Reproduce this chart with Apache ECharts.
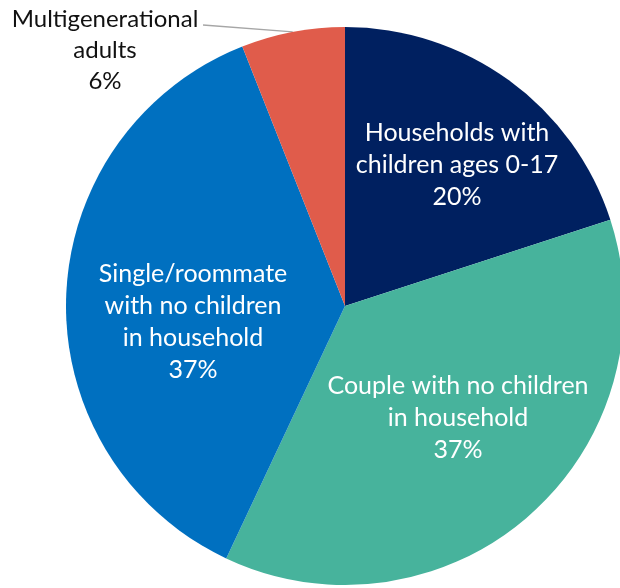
<!DOCTYPE html>
<html>
<head>
<meta charset="utf-8">
<script src="https://cdn.jsdelivr.net/npm/echarts@6/dist/echarts.min.js"></script>
<style>
  html, body { margin: 0; padding: 0; background: #ffffff; }
  #chart { width: 620px; height: 588px; }
</style>
</head>
<body>
<div id="chart"></div>
<script>
// Household types (share of households, %)
const categories = [
  'Households with\nchildren ages 0-17',
  'Couple with no children\nin household',
  'Single/roommate\nwith no children\nin household',
  'Multigenerational\nadults'
];
const shares = [20, 37, 37, 6];

const sliceColors = ['#002060', '#47B39C', '#0070C0', '#E05C4B'];
// Label centres for each slice (pixels)
const labelSpots = [[457, 165], [458, 418], [193, 322], [105, 50]];

const CENTER = [345, 306];
const RADIUS = 279;

// point on the pie rim at the middle of slice i (clockwise from 12 o'clock)
function rimPoint(i) {
  const total = shares.reduce((a, b) => a + b, 0);
  let before = 0;
  for (let k = 0; k < i; k++) before += shares[k];
  const frac = (before + shares[i] / 2) / total;
  const ang = frac * 2 * Math.PI;
  return [CENTER[0] + RADIUS * Math.sin(ang), CENTER[1] - RADIUS * Math.cos(ang)];
}

const chart = echarts.init(document.getElementById('chart'), null, { renderer: 'canvas' });

const data = categories.map((name, i) => {
  const item = {
    name: name,
    value: shares[i],
    itemStyle: { color: sliceColors[i] }
  };
  if (i === 3) {
    item.label = { position: 'outside', color: '#111111', fontSize: 24, lineHeight: 31 };
    item.labelLine = { show: true, length: 10, length2: 10, lineStyle: { color: '#a6a6a6', width: 1.3 } };
  }
  return item;
});

chart.setOption({
  animation: false,
  series: [{
    type: 'pie',
    center: CENTER,
    radius: [0, RADIUS],
    startAngle: 90,
    clockwise: true,
    avoidLabelOverlap: false,
    data: data,
    label: {
      show: true,
      position: 'inside',
      color: '#ffffff',
      fontFamily: 'Lato, "Open Sans", sans-serif',
      fontSize: 25,
      lineHeight: 32,
      align: 'center',
      formatter: p => p.name + '\n' + p.value + '%'
    },
    labelLine: { show: false },
    labelLayout: function (params) {
      const i = params.dataIndex;
      const spot = labelSpots[i];
      const out = { x: spot[0], y: spot[1], align: 'center', verticalAlign: 'middle' };
      if (i === 3) {
        out.labelLinePoints = [rimPoint(3), [spot[0] + 98, spot[1] - 25]];
      }
      return out;
    }
  }]
});
</script>
</body>
</html>
